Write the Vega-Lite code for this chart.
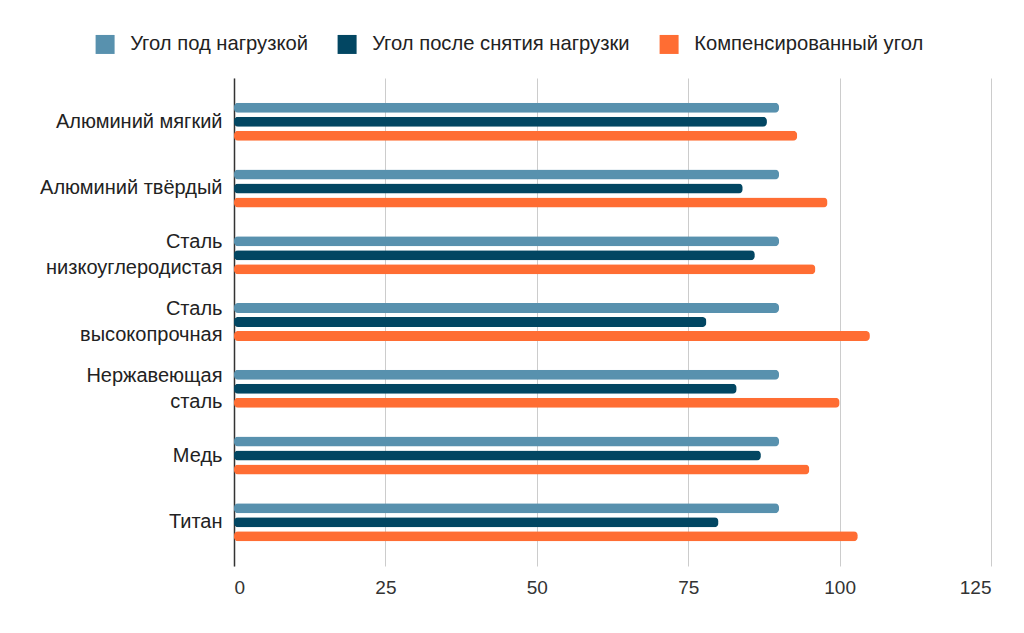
{
  "$schema": "https://vega.github.io/schema/vega-lite/v6.json",
  "width": 757,
  "height": 488,
  "autosize": {"type": "none"},
  "padding": {"left": 234, "top": 78, "right": 33, "bottom": 67},
  "config": {"font": "Liberation Sans", "view": {"stroke": null}},
  "data": {
    "values": [
      {"material": "Алюминий мягкий", "series": "Угол под нагрузкой", "value": 90},
      {"material": "Алюминий мягкий", "series": "Угол после снятия нагрузки", "value": 88},
      {"material": "Алюминий мягкий", "series": "Компенсированный угол", "value": 93},
      {"material": "Алюминий твёрдый", "series": "Угол под нагрузкой", "value": 90},
      {"material": "Алюминий твёрдый", "series": "Угол после снятия нагрузки", "value": 84},
      {"material": "Алюминий твёрдый", "series": "Компенсированный угол", "value": 98},
      {"material": "Сталь|низкоуглеродистая", "series": "Угол под нагрузкой", "value": 90},
      {"material": "Сталь|низкоуглеродистая", "series": "Угол после снятия нагрузки", "value": 86},
      {"material": "Сталь|низкоуглеродистая", "series": "Компенсированный угол", "value": 96},
      {"material": "Сталь|высокопрочная", "series": "Угол под нагрузкой", "value": 90},
      {"material": "Сталь|высокопрочная", "series": "Угол после снятия нагрузки", "value": 78},
      {"material": "Сталь|высокопрочная", "series": "Компенсированный угол", "value": 105},
      {"material": "Нержавеющая|сталь", "series": "Угол под нагрузкой", "value": 90},
      {"material": "Нержавеющая|сталь", "series": "Угол после снятия нагрузки", "value": 83},
      {"material": "Нержавеющая|сталь", "series": "Компенсированный угол", "value": 100},
      {"material": "Медь", "series": "Угол под нагрузкой", "value": 90},
      {"material": "Медь", "series": "Угол после снятия нагрузки", "value": 87},
      {"material": "Медь", "series": "Компенсированный угол", "value": 95},
      {"material": "Титан", "series": "Угол под нагрузкой", "value": 90},
      {"material": "Титан", "series": "Угол после снятия нагрузки", "value": 80},
      {"material": "Титан", "series": "Компенсированный угол", "value": 103}
    ]
  },
  "mark": {"type": "bar", "cornerRadius": 4},
  "encoding": {
    "y": {
      "field": "material",
      "type": "nominal",
      "sort": null,
      "title": null,
      "scale": {"paddingInner": 0.43, "paddingOuter": 0.37},
      "axis": {
        "labelExpr": "split(datum.label, '|')",
        "labelFontSize": 20,
        "labelColor": "#222222",
        "labelLineHeight": 26,
        "labelOffset": {"condition": {"test": "indexof(datum.value, '|') >= 0", "value": -13}, "value": 0},
        "ticks": false,
        "domainColor": "#333333",
        "domainWidth": 1.5,
        "labelPadding": 12,
        "labelLimit": 300
      }
    },
    "yOffset": {
      "field": "series",
      "type": "nominal",
      "sort": ["Угол под нагрузкой", "Угол после снятия нагрузки", "Компенсированный угол"],
      "scale": {"paddingInner": 0.28}
    },
    "x": {
      "field": "value",
      "type": "quantitative",
      "scale": {"domain": [0, 125]},
      "title": null,
      "axis": {
        "values": [0, 25, 50, 75, 100, 125],
        "domain": false,
        "ticks": false,
        "gridColor": "#cccccc",
        "labelFontSize": 19,
        "labelColor": "#333333",
        "labelPadding": 12
      }
    },
    "color": {
      "field": "series",
      "type": "nominal",
      "scale": {
        "domain": ["Угол под нагрузкой", "Угол после снятия нагрузки", "Компенсированный угол"],
        "range": ["#5891ae", "#024662", "#ff6d33"]
      },
      "legend": {
        "orient": "none",
        "legendX": -139,
        "legendY": -44,
        "direction": "horizontal",
        "title": null,
        "symbolType": "square",
        "symbolSize": 361,
        "symbolStrokeWidth": 0,
        "symbolOpacity": 1,
        "labelFontSize": 20.2,
        "labelLimit": 500,
        "labelColor": "#222222",
        "columnPadding": 29,
        "labelOffset": 15
      }
    }
  }
}
